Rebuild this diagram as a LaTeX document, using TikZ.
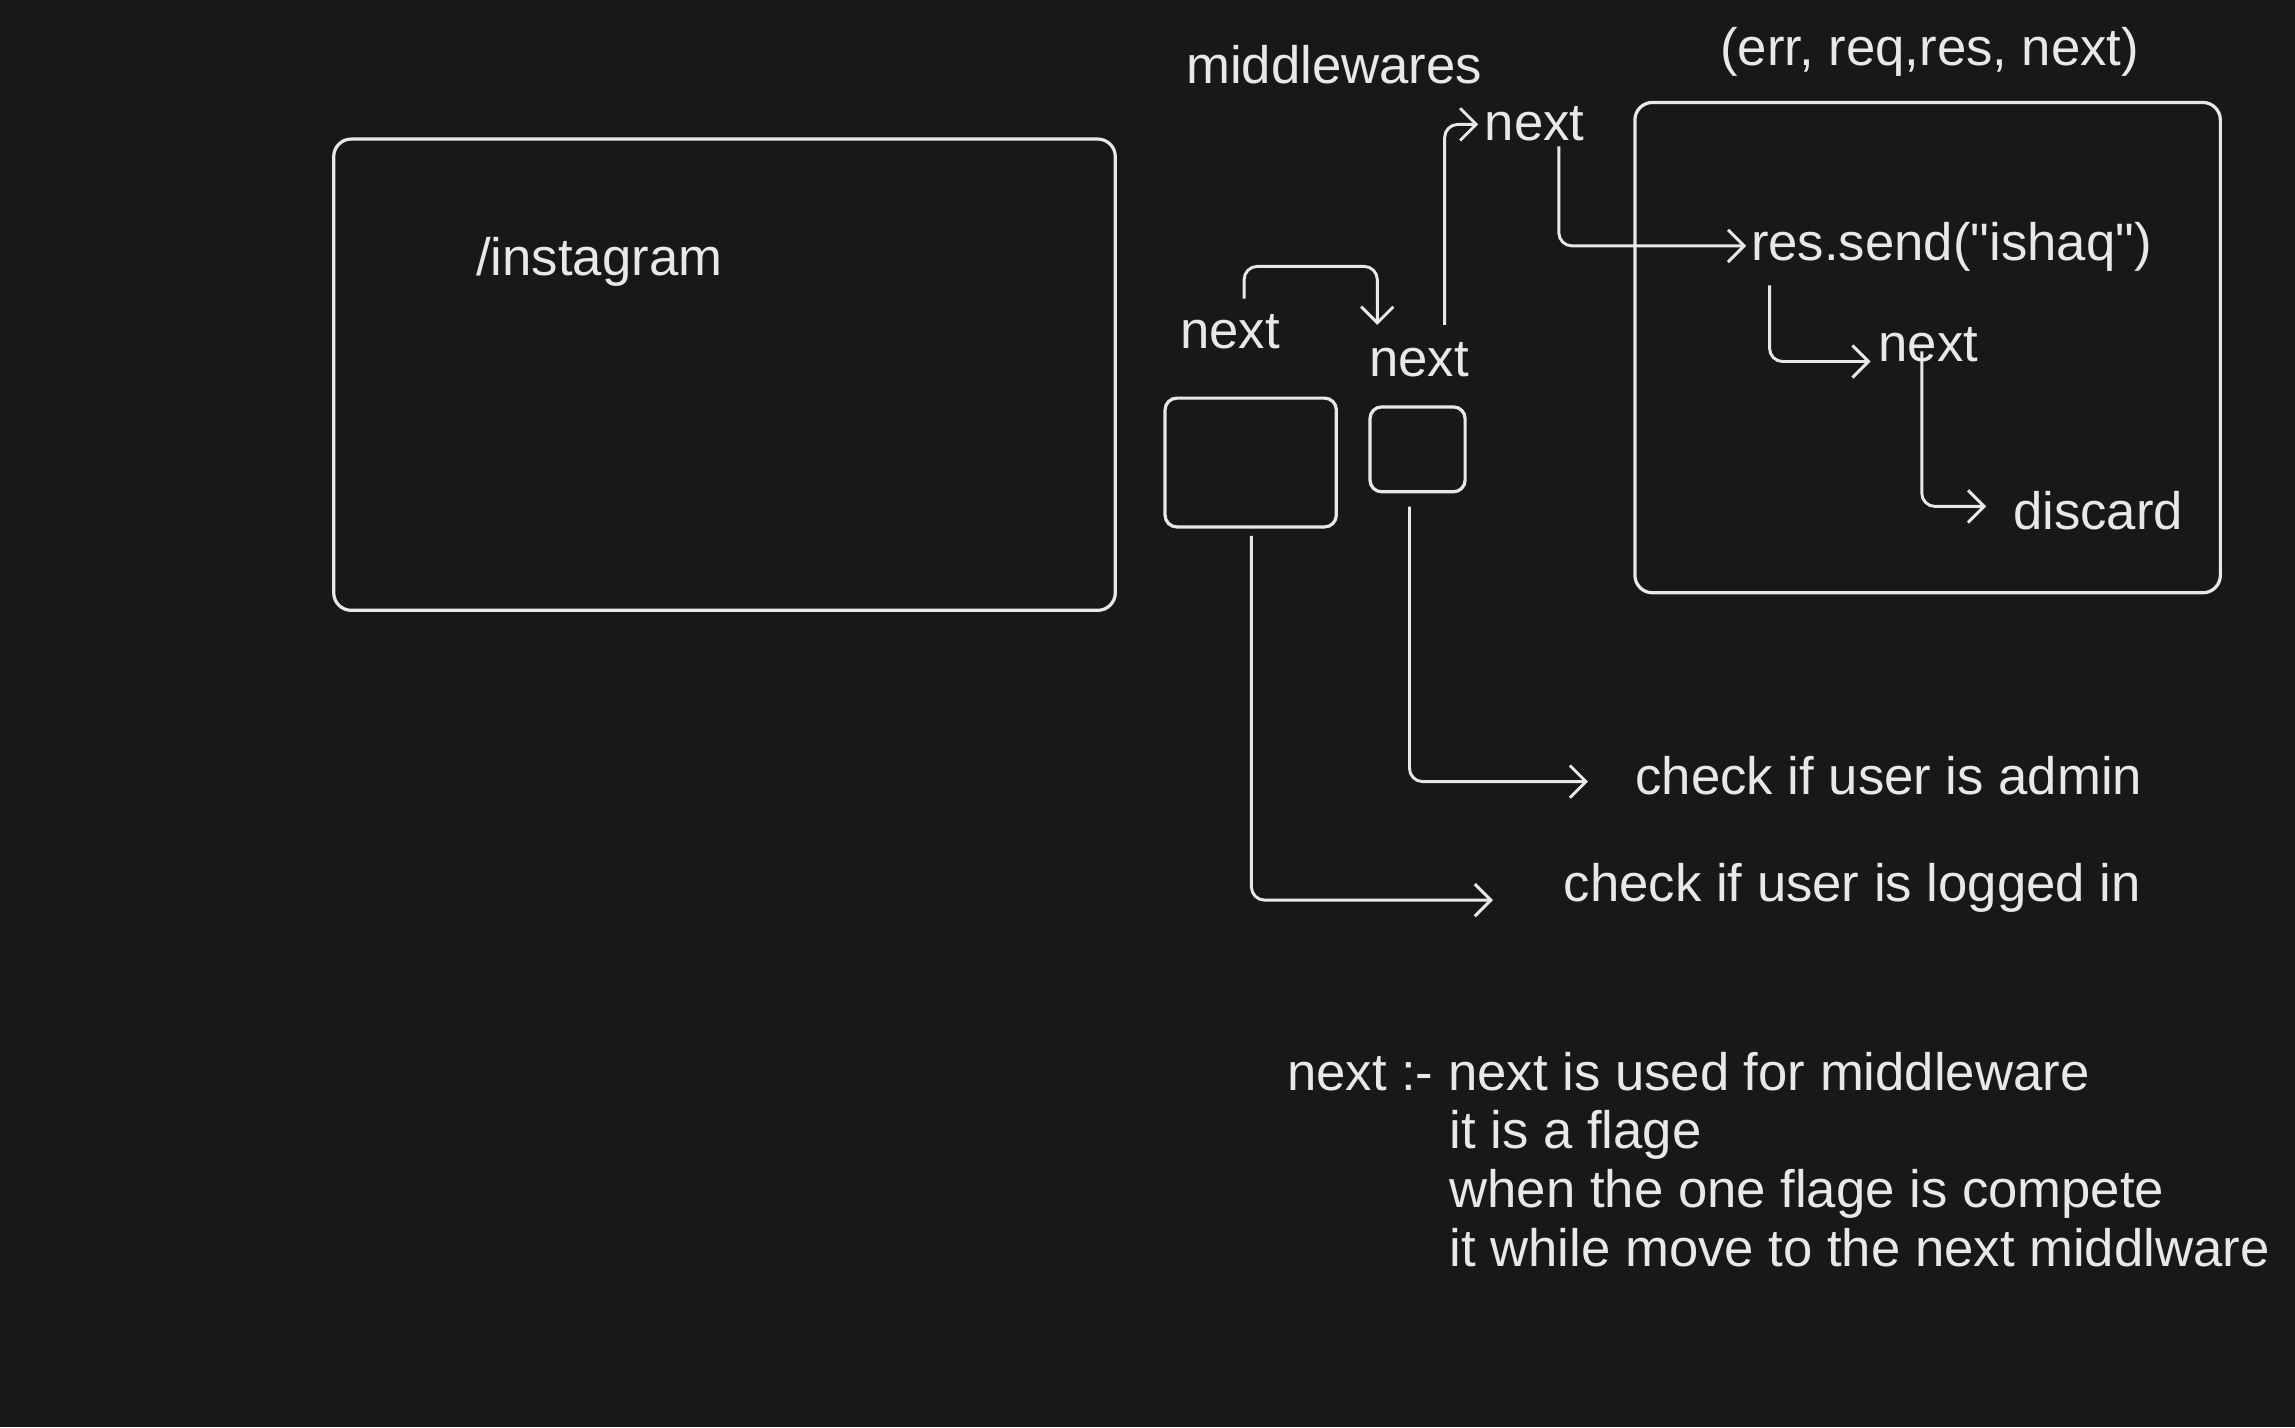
\documentclass[tikz,border=0pt]{standalone}
\usepackage{fontspec}
\setmainfont{Liberation Sans}[Ligatures=TeXOff]
\usetikzlibrary{arrows.meta,calc}
\definecolor{bgc}{RGB}{24,24,24}
\definecolor{ink}{RGB}{232,232,232}
\begin{document}
\begin{tikzpicture}[x=0.5pt,y=-0.5pt,
  txt/.style={inner sep=0pt, anchor=base west, text=ink, font=\fontsize{18}{22}\selectfont},
  boxsh/.style={draw=ink, line width=1.1pt, inner sep=0pt},
  arr/.style={draw=ink, line width=1pt, rounded corners=4.5pt, -{Straight Barb[length=5.5pt,width=11pt,line width=1pt]}}]
\fill[bgc] (0,0) rectangle (1568,975);
\useasboundingbox (0,0) rectangle (1568,975);

% boxes
\node[boxsh, rounded corners=6pt, minimum width=267pt, minimum height=161pt] (route) at (495,256) {};
\node[boxsh, rounded corners=6pt, minimum width=200pt, minimum height=167.5pt] (handler) at (1317,237.5) {};
\node[boxsh, rounded corners=4pt, minimum width=58.5pt, minimum height=44pt] (mw1) at (854.5,316) {};
\node[boxsh, rounded corners=4pt, minimum width=32.5pt, minimum height=29pt] (mw2) at (968.5,307) {};

% texts
\node[txt] (inst) at (325,188) {/instagram};
\node[txt] (mw) at (810,57) {middlewares};
\node[txt] (sig) at (1175,45) {(err, req,res, next)};
\node[txt] (n0) at (1014,96) {next};
\node[txt] (send) at (1196,178) {res.send("ishaq")};
\node[txt] (n3) at (1283,247) {next};
\node[txt] (disc) at (1375,362) {discard};
\node[txt] (n1) at (806,238) {next};
\node[txt] (n2) at (935,257) {next};
\node[txt] (admin) at (1117,543) {check if user is admin};
\node[txt] (logged) at (1068,616) {check if user is logged in};
\node[txt] (d1) at (879,745) {next :- next is used for middleware};
\node[txt] (d2) at (990,785) {it is a flage};
\node[txt] (d3) at (990,825) {when the one flage is compete};
\node[txt] (d4) at (990,865) {it while move to the next middlware};

% connectors
\draw[arr] ($(n1.base west)+(44,-34)$) |- ($(n2.base west)+(6,-75)$) -- ($(n2.base west)+(6,-35)$);
\draw[arr] ($(n2.base west)+(52,-35)$) |- ($(n0.base west)+(-4,-11)$);
\draw[arr] ($(n0.base west)+(51,4)$) |- ($(send.base west)+(-3,-10)$);
\draw[arr] ($(send.base west)+(13,17)$) |- ($(n3.base west)+(-5,0)$);
\draw[arr] ($(n3.base west)+(30,-7)$) |- ($(disc.base west)+(-18,-16)$);
\draw[arr] ($(mw1.south)+(0.5,5)$) |- ($(logged.base west)+(-48,-1)$);
\draw[arr] ($(mw2.south)+(-5.5,9)$) |- ($(admin.base west)+(-32,-9)$);
\end{tikzpicture}
\end{document}
